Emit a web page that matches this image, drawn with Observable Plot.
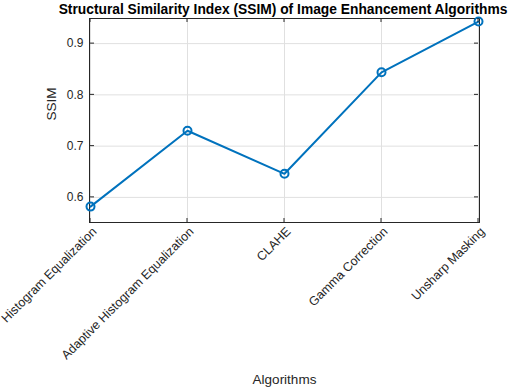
<!DOCTYPE html>
<html>
<head>
<meta charset="utf-8">
<script src="https://cdn.jsdelivr.net/npm/d3@7"></script>
<script src="https://cdn.jsdelivr.net/npm/@observablehq/plot@0.6"></script>
<style>
  html, body { margin: 0; padding: 0; background: #fff; }
  svg { display: block; }
</style>
</head>
<body>
<div id="chart"></div>
<script>
const algorithms = ["Histogram Equalization", "Adaptive Histogram Equalization", "CLAHE", "Gamma Correction", "Unsharp Masking"];
const ssim = [0.582, 0.730, 0.646, 0.844, 0.943];
const yTicks = [0.6, 0.7, 0.8, 0.9];
const yDomain = [0.551, 0.949];
const title = "Structural Similarity Index (SSIM) of Image Enhancement Algorithms";
const xLabel = "Algorithms";
const yLabel = "SSIM";

const data = algorithms.map((a, i) => ({algorithm: a, ssim: ssim[i]}));
const ink = "#262626";
const blue = "#0072BD";

const plot = Plot.plot({
  width: 511,
  height: 389,
  marginTop: 18,
  marginBottom: 167,
  marginLeft: 89,
  marginRight: 32,
  style: {fontFamily: "'Liberation Sans', Arial, sans-serif", color: ink, background: "#fff"},
  x: {type: "point", domain: algorithms, padding: 0},
  y: {domain: yDomain},
  marks: [
    Plot.gridX(algorithms, {stroke: "#e0e0e0", strokeOpacity: 1}),
    Plot.gridY(yTicks, {stroke: "#e0e0e0", strokeOpacity: 1}),
    Plot.axisY(yTicks, {tickSize: 0, tickPadding: 6, fontSize: 12, tickFormat: d3.format(".1f"), label: null, fill: ink}),
    Plot.axisX(algorithms, {tickSize: 0, tickRotate: -45, tickPadding: 7, dx: 4, fontSize: 12.5, label: null, fill: ink}),
    Plot.frame({stroke: ink, strokeWidth: 1}),
    Plot.line(data, {x: "algorithm", y: "ssim", stroke: blue, strokeWidth: 2}),
    Plot.dot(data, {x: "algorithm", y: "ssim", r: 4, stroke: blue, strokeWidth: 2, fill: "none"}),
    Plot.text([title], {frameAnchor: "top", dy: -9, dx: -1.5, fontSize: 13.8, fontWeight: "bold", fill: "#000", lineAnchor: "middle"}),
    Plot.text([xLabel], {frameAnchor: "bottom", dy: 157, fontSize: 13.5, fill: ink, lineAnchor: "middle"}),
    Plot.text([yLabel], {frameAnchor: "left", dx: -38, rotate: -90, fontSize: 13.5, fill: ink, lineAnchor: "middle"})
  ]
});

// inward MATLAB-style ticks on all four sides, positioned with Plot's own scales
const xs = plot.scale("x"), ys = plot.scale("y");
const svg = d3.select(plot);
const g = svg.append("g").attr("stroke", ink).attr("stroke-width", 1);
const L = 4;
const x0 = xs.apply(algorithms[0]), x1 = xs.apply(algorithms[algorithms.length - 1]);
const yb = ys.apply(yDomain[0]), yt = ys.apply(yDomain[1]);
for (const t of yTicks) {
  const y = ys.apply(t);
  g.append("line").attr("x1", x0).attr("x2", x0 + L).attr("y1", y).attr("y2", y);
  g.append("line").attr("x1", x1).attr("x2", x1 - L).attr("y1", y).attr("y2", y);
}
for (const a of algorithms) {
  const x = xs.apply(a);
  g.append("line").attr("x1", x).attr("x2", x).attr("y1", yb).attr("y2", yb - L);
  g.append("line").attr("x1", x).attr("x2", x).attr("y1", yt).attr("y2", yt + L);
}
document.getElementById("chart").appendChild(plot);
</script>
</body>
</html>
